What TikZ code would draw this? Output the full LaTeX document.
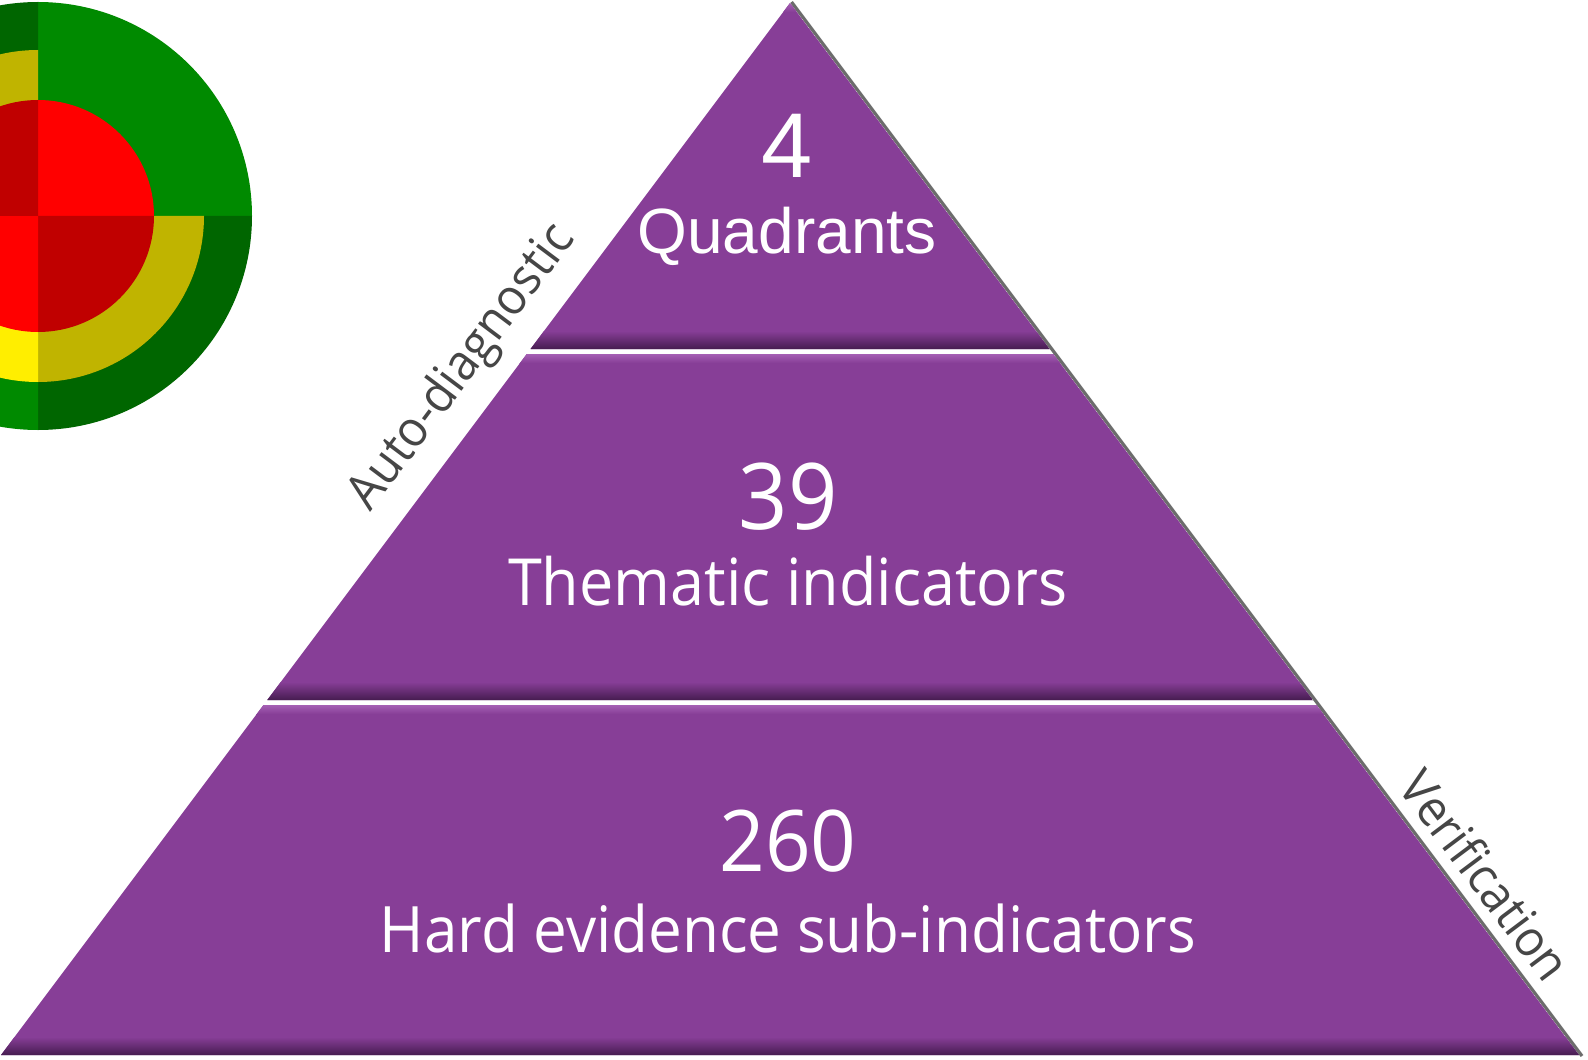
\documentclass[tikz,border=0pt]{standalone}
\usepackage{fontspec}
\newfontfamily\seg[FakeStretch=0.94]{Open Sans}
\newfontfamily\ari{Liberation Sans}
\definecolor{purp}{RGB}{135,62,151}
\definecolor{purpdark}{RGB}{70,28,80}
\definecolor{purplight}{RGB}{165,95,180}
\definecolor{gbright}{RGB}{0,138,0}
\definecolor{gdark}{RGB}{0,102,0}
\definecolor{ydark}{RGB}{192,180,0}
\definecolor{ybright}{RGB}{255,238,0}
\definecolor{rbright}{RGB}{255,0,0}
\definecolor{rdark}{RGB}{192,0,0}
\definecolor{labgray}{RGB}{70,70,70}
\tikzset{
  numtxt/.style={text=white, inner sep=0pt, anchor=base},
  sidelab/.style={text=labgray, inner sep=0pt, font=\seg\fontsize{25pt}{30pt}\selectfont},
}
\begin{document}
\begin{tikzpicture}[x=0.5pt,y=-0.5pt]
\useasboundingbox (0,0) rectangle (1588,1059);
\clip (0,0) rectangle (1588,1059);
\fill[white] (0,0) rectangle (1588,1059);
% target circle
\coordinate (cc) at (38,216);
\newcommand{\quadr}[4]{\fill[#4] (cc) -- +(#1:#3) arc[start angle=#1, end angle=#2, radius=#3] -- cycle;}
\quadr{-90}{0}{214}{gbright}
\quadr{0}{90}{214}{gdark}
\quadr{90}{180}{214}{gbright}
\quadr{180}{270}{214}{gdark}
\quadr{-90}{0}{166}{gbright}
\quadr{0}{90}{166}{ydark}
\quadr{90}{180}{166}{ybright}
\quadr{180}{270}{166}{ydark}
\quadr{-90}{0}{116}{rbright}
\quadr{0}{90}{116}{rdark}
\quadr{90}{180}{116}{rbright}
\quadr{180}{270}{116}{rdark}
% shadow on right edge
\coordinate (apex) at (790,3);
\coordinate (bl) at (1,1055);
\coordinate (br) at (1579,1055);
\draw[gray!85!black, line width=1.6pt] (791.5,2) -- (1582,1056);
% tiers
\newcommand{\tier}[7]{%
\begin{scope}
\clip #1;
\fill[purp] #1;
\shade[top color=purp, bottom color=purpdark] (0,#3-18) rectangle (1588,#3);
\shade[top color=purplight, bottom color=purp] (0,#2) rectangle (1588,#2+9);
\end{scope}}
\tier{(790,3) -- (530.5,349) -- (1049.5,349) -- cycle}{3}{349}{}{}{}{}
\tier{(526.75,354) -- (267.25,700) -- (1312.75,700) -- (1053.25,354) -- cycle}{354}{700}{}{}{}{}
\tier{(263.5,705) -- (1,1055) -- (1579,1055) -- (1316.5,705) -- cycle}{705}{1055}{}{}{}{}
% texts
\node[numtxt, font=\ari\fontsize{46pt}{50pt}\selectfont] (n4) at (787,177) {4};
\node[numtxt, font=\ari\fontsize{32pt}{36pt}\selectfont] (quad) at (787,253) {Quadrants};
\node[numtxt, font=\seg\fontsize{46pt}{50pt}\selectfont] (n39) at (788,529) {39};
\node[numtxt, font=\seg\fontsize{32.5pt}{36pt}\selectfont] (them) at (788,605) {Thematic indicators};
\node[numtxt, font=\seg\fontsize{42.5pt}{46pt}\selectfont] (n260) at (788,871) {260};
\node[numtxt, font=\seg\fontsize{32pt}{36pt}\selectfont] (hard) at (788,952) {Hard evidence sub-indicators};
\node[sidelab, rotate=53.13] (auto) at (463,368) {Auto-diagnostic};
\node[sidelab, rotate=-53.13] (veri) at (1486,875) {Verification};
\end{tikzpicture}
\end{document}
